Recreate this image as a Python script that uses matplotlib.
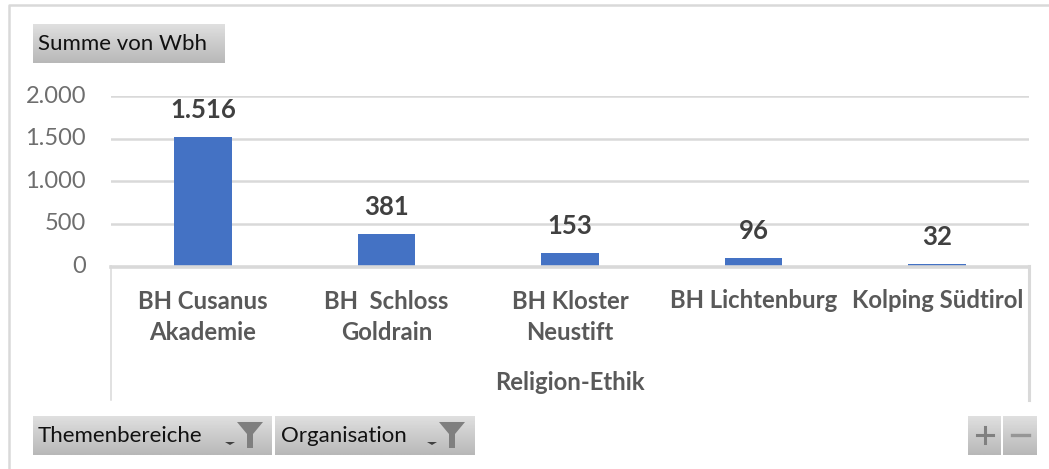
import numpy as np
import matplotlib
matplotlib.use("Agg")
import matplotlib.pyplot as plt
from matplotlib.patches import Polygon
from matplotlib.transforms import ScaledTranslation

categories = ["BH Cusanus\nAkademie", "BH  Schloss\nGoldrain", "BH Kloster\nNeustift", "BH Lichtenburg", "Kolping Südtirol"]
values = [1516, 381, 153, 96, 32]
value_labels = ["1.516", "381", "153", "96", "32"]
yticks = [0, 500, 1000, 1500, 2000]
ytick_labels = ["0", "500", "1.000", "1.500", "2.000"]
group_label = "Religion-Ethik"
field_value = "Summe von Wbh"
field_filters = ["Themenbereiche", "Organisation"]

W, H = 1049, 469
plt.rcParams["font.family"] = ["Lato", "DejaVu Sans"]
fig = plt.figure(figsize=(W / 100, H / 100), dpi=100, facecolor="white")

# overlay in pixel coordinates (y down)
bg = fig.add_axes([0, 0, 1, 1], zorder=0)
bg.set_xlim(0, W); bg.set_ylim(H, 0); bg.axis("off")

GRID = "#d9d9d9"
bg.plot([W + 5, 8.5, 8.5], [5, 5, H + 5], color=GRID, lw=1.8)

ax = fig.add_axes([111 / W, 1 - 266.5 / H, 918 / W, 170.5 / H], zorder=1)
ax.patch.set_alpha(0)
x = np.arange(len(categories))
bars = ax.bar(x, values, width=0.313, color="#4472c4", zorder=3)
ax.set_xlim(-0.5, 4.5)
ax.set_ylim(0, 2000)
ax.set_yticks(yticks, ytick_labels)
ax.set_xticks(x, [""] * len(x))
ax.tick_params(axis="both", length=0)
ax.tick_params(axis="y", labelsize=17, labelcolor="#6e6e6e", pad=18)
up = ScaledTranslation(0, 2 / 100, fig.dpi_scale_trans)
for lab in ax.get_yticklabels():
    lab.set_transform(lab.get_transform() + up)
ax.grid(axis="y", color=GRID, lw=1.8, zorder=0)
for s in ["top", "left", "right"]:
    ax.spines[s].set_visible(False)
ax.spines["bottom"].set_color(GRID)
ax.spines["bottom"].set_linewidth(2.6)
ax.spines["bottom"].set_zorder(4)
ax.set_axisbelow(True)

for xi, v, lab in zip(x, values, value_labels):
    ax.annotate(lab, (xi, v), xytext=(0, 15), textcoords="offset pixels",
                ha="center", va="bottom", fontsize=18.5, fontweight="bold", color="#404040")

# multi-level category frame
bg.plot([111, 111], [266, 400], color=GRID, lw=1.1)
bg.plot([1029, 1029], [266, 400], color=GRID, lw=2.2)
for i, c in enumerate(categories):
    cx = ax.transData.transform((i, 0))[0]
    bg.text(cx, 317 if "\n" in c else 301, c, ha="center", va="center", fontsize=17.2, fontweight="bold",
            color="#595959", linespacing=1.42)
bg.text(570, 383, group_label, ha="center", va="center", fontsize=17.2, fontweight="bold", color="#595959")

# pivot field buttons
grad = np.linspace(0.875, 0.72, 64).reshape(-1, 1)
def button(x0, y0, x1, y1):
    bg.imshow(grad, extent=(x0, x1, y1, y0), cmap="gray", vmin=0, vmax=1, aspect="auto", zorder=2)

def funnel(cx, cy):
    bg.add_patch(Polygon([(cx - 13, cy - 12), (cx + 13, cy - 12), (cx + 3, cy), (cx + 3, cy + 14), (cx - 3, cy + 14), (cx - 3, cy)],
                         fc="#7f7f7f", ec="none", zorder=3))
    bg.add_patch(Polygon([(cx - 25, cy + 8), (cx - 15, cy + 8), (cx - 20, cy + 11)], fc="#404040", ec="none", zorder=3))

button(33, 24, 225, 63)
bg.text(38, 44, field_value, va="center", fontsize=16, color="#111111", zorder=4)
button(33, 416, 272, 455)
bg.text(38, 436, field_filters[0], va="center", fontsize=16, color="#111111", zorder=4)
funnel(250, 434)
button(275, 416, 475, 455)
bg.text(281, 436, field_filters[1], va="center", fontsize=16, color="#111111", zorder=4)
funnel(452, 434)
button(968, 416, 1001, 455)
button(1003, 416, 1037, 455)
bg.plot([977, 993], [435, 435], color="#808080", lw=2.2, zorder=4)
bg.plot([985, 985], [427, 443], color="#808080", lw=2.2, zorder=4)
bg.plot([1012, 1029], [435, 435], color="#969696", lw=2.4, zorder=4)
bg.set_xlim(0, W); bg.set_ylim(H, 0)

fig.savefig("out.png", dpi=100)
